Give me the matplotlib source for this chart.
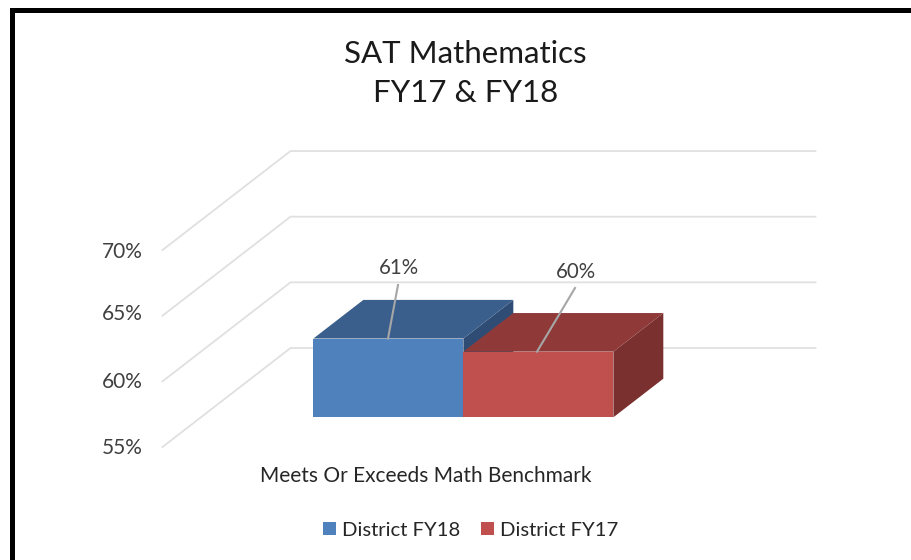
import matplotlib.pyplot as plt
from matplotlib.patches import Polygon, Patch

plt.rcParams['font.family'] = ['Lato', 'DejaVu Sans']

title = 'SAT Mathematics\nFY17 & FY18'
category = 'Meets Or Exceeds Math Benchmark'
series = ['District FY18', 'District FY17']
values = [61, 60]
ticks = [55, 60, 65, 70]
tick_labels = ['55%', '60%', '65%', '70%']
colors = ['#4f81bd', '#c0504d']
top_colors = ['#3b5f8d', '#8f3a39']
side_colors = ['#2f4d74', '#7a302e']

# fake 3d projection, everything goes to image pixels from here
FLOOR_Y = 447
PX_PER_PCT = 13.13
FRONT_X = 162.5
PLOT_W = 525
DEPTH_DX = 128
DEPTH_DY = 99
BAR_W = 0.2857
BAR_D0 = 0.30
BAR_D1 = 0.69


def px(x, d=0):
    return FRONT_X + x * PLOT_W + d * DEPTH_DX


def py(v, d=0):
    return FLOOR_Y - (v - ticks[0]) * PX_PER_PCT - d * DEPTH_DY


fig = plt.figure(figsize=(9.11, 5.6), dpi=100)
ax = fig.add_axes([0, 0, 1, 1])
ax.set_xlim(0, 911)
ax.set_ylim(560, 0)
ax.axis('off')

# frame, only top and left show in the crop
ax.plot([11.5, 11.5, 911], [560, 9.5, 9.5], color='black', lw=3.6, solid_joinstyle='miter')

tick_y = [447.5, 381.5, 314.5, 251.5]
for t, lab, ty in zip(ticks, tick_labels, tick_y):
    ax.plot([px(0), px(0, 1), px(1, 1)], [py(t), py(t, 1), py(t, 1)], color='#e0e0e0', lw=1.3, zorder=1)
    ax.text(122.5, ty, lab, ha='center', va='center', fontsize=15, color='#404040')

# left bar goes under the right one where they meet
for i in [0, 1]:
    x0 = 0.5 + (i - 1) * BAR_W
    x1 = x0 + BAR_W
    v = values[i]
    base = ticks[0]
    z = 3 + i
    ax.add_patch(Polygon([(px(x1, BAR_D0), py(v, BAR_D0)), (px(x1, BAR_D1), py(v, BAR_D1)),
                          (px(x1, BAR_D1), py(base, BAR_D1)), (px(x1, BAR_D0), py(base, BAR_D0))],
                         fc=side_colors[i], ec='none', zorder=z))
    ax.add_patch(Polygon([(px(x0, BAR_D0), py(v, BAR_D0)), (px(x0, BAR_D1), py(v, BAR_D1)),
                          (px(x1, BAR_D1), py(v, BAR_D1)), (px(x1, BAR_D0), py(v, BAR_D0))],
                         fc=top_colors[i], ec='none', zorder=z))
    ax.add_patch(Polygon([(px(x0, BAR_D0), py(v, BAR_D0)), (px(x1, BAR_D0), py(v, BAR_D0)),
                          (px(x1, BAR_D0), py(base, BAR_D0)), (px(x0, BAR_D0), py(base, BAR_D0))],
                         fc=colors[i], ec='none', zorder=z))

# data labels with leader lines
label_pos = [(399, 268), (575.5, 272.5)]
leader_start = [(398, 285), (575, 288)]
leader_x = [388, 537]
for i in range(2):
    ax.text(label_pos[i][0], label_pos[i][1], '%d%%' % values[i], ha='center', va='center',
            fontsize=14.8, color='#404040')
    ax.plot([leader_start[i][0], leader_x[i]], [leader_start[i][1], py(values[i], BAR_D0)],
            color='#a6a6a6', lw=1.5, zorder=6)

ax.text(425.5, 475.5, category, ha='center', va='center', fontsize=15, color='#262626')
ax.text(465.5, 73.5, title, ha='center', va='center', fontsize=22.5, color='#1a1a1a', linespacing=1.52)

handles = [Patch(fc=colors[i], ec='none', label=series[i]) for i in range(2)]
ax.legend(handles=handles, loc='center', bbox_to_anchor=(470.5 / 911, 1 - 530 / 560), ncol=2, frameon=False,
          fontsize=14.6, handlelength=0.62, handleheight=0.65, handletextpad=0.3, columnspacing=1.05,
          labelcolor='#262626')

fig.savefig('out.png', dpi=100)
